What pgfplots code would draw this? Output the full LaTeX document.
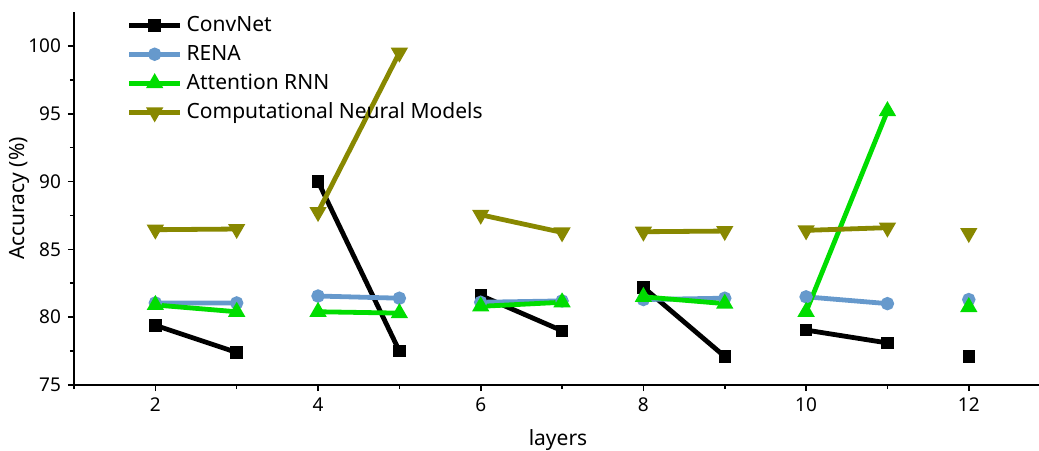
\documentclass[border=0pt]{standalone}
\usepackage{pgfplots}
\pgfplotsset{compat=1.18}
\usepackage{fontspec}
\setmainfont{Noto Sans}
\definecolor{rena}{RGB}{102,153,204}
\definecolor{attn}{RGB}{0,221,0}
\definecolor{cnm}{RGB}{136,136,0}
\begin{document}
\begin{tikzpicture}
\useasboundingbox (-37pt,-32.5pt) rectangle (482.5pt,192.5pt);
\begin{axis}[
  scale only axis,
  width=484pt, height=186.5pt,
  xmin=1, xmax=12.9, ymin=75, ymax=102.5,
  axis x line*=bottom, axis y line*=left,
  axis line style={line width=0.8pt},
  tick align=outside,
  tick style={line width=0.8pt, black},
  major tick length=3pt, minor tick length=2pt,
  xtick={2,4,6,8,10,12}, minor xtick={1,3,5,7,9,11},
  ytick={75,80,85,90,95,100}, minor ytick={77.5,82.5,87.5,92.5,97.5},
  /pgf/number format/assume math mode=true,
  ticklabel style={font=\fontsize{9.5}{11}\selectfont},
  xlabel={layers}, ylabel={Accuracy (\%)},
  label style={font=\fontsize{10.5}{12}\selectfont},
  xlabel style={yshift=-2pt},
  ylabel style={at={(axis description cs:-0.056,0.5)}, anchor=center},
  unbounded coords=jump,
  every axis plot/.append style={line width=2.4pt},
  legend style={at={(rel axis cs:0.054,1.0)}, anchor=north west, draw=none, fill=none,
    font=\fontsize{10.5}{13}\selectfont, row sep=1.3pt, inner sep=0pt},
  legend cell align=left,
  legend image code/.code={\draw[mark repeat=2,mark phase=2,#1] plot coordinates {(0,0)(0.45cm,0)(0.9cm,0)};},
]
\addplot[black, mark=square*, mark size=1.9pt, mark options={solid}] coordinates {
(2,79.4) (3,77.4) (3.5,nan) (4,90.0) (5,77.5) (5.5,nan) (6,81.6) (7,79.0) (7.5,nan)
(8,82.2) (9,77.1) (9.5,nan) (10,79.05) (11,78.1) (11.5,nan) (12,77.1)};
\addlegendentry{ConvNet}
\addplot[rena, mark=*, mark size=2.1pt, mark options={solid}] coordinates {
(2,81.05) (3,81.05) (3.5,nan) (4,81.56) (5,81.4) (5.5,nan) (6,81.1) (7,81.2) (7.5,nan)
(8,81.3) (9,81.4) (9.5,nan) (10,81.5) (11,81.0) (11.5,nan) (12,81.3)};
\addlegendentry{RENA}
\addplot[attn, mark=triangle*, mark size=2.6pt, mark options={solid}] coordinates {
(2,80.9) (3,80.4) (3.5,nan) (4,80.4) (5,80.3) (5.5,nan) (6,80.8) (7,81.1) (7.5,nan)
(8,81.5) (9,81.0) (9.5,nan) (10,80.4) (11,95.2) (11.5,nan) (12,80.75)};
\addlegendentry{Attention RNN}
\addplot[cnm, mark=triangle*, mark size=2.6pt, mark options={solid, rotate=180}] coordinates {
(2,86.45) (3,86.5) (3.5,nan) (4,87.75) (5,99.5) (5.5,nan) (6,87.55) (7,86.25) (7.5,nan)
(8,86.3) (9,86.35) (9.5,nan) (10,86.4) (11,86.6) (11.5,nan) (12,86.2)};
\addlegendentry{Computational Neural Models}
\end{axis}
\end{tikzpicture}
\end{document}
